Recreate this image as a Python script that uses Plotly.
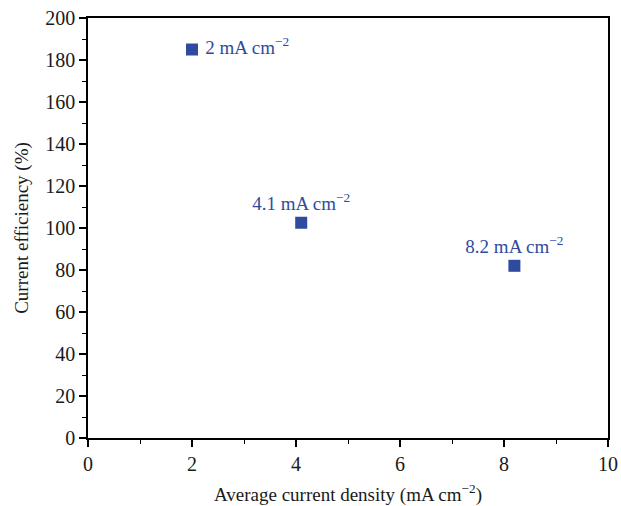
import plotly.graph_objects as go

# Measured points
density = [2.0, 4.1, 8.2]          # mA cm^-2
efficiency = [185, 102.5, 82]      # %
point_labels = [" 2 mA cm<sup>−2</sup>", "4.1 mA cm<sup>−2</sup>", "8.2 mA cm<sup>−2</sup>"]
label_positions = ["middle right", "top center", "top center"]

x_ticks = [0, 2, 4, 6, 8, 10]
y_ticks = [0, 20, 40, 60, 80, 100, 120, 140, 160, 180, 200]

blue = "#2f4b9f"
font_family = "Liberation Serif"
text_color = "#1a1a1a"

fig = go.Figure()
fig.add_trace(go.Scatter(
    x=density, y=efficiency,
    mode="markers+text",
    marker=dict(symbol="square", size=12, color=blue),
    text=point_labels,
    textposition=label_positions,
    textfont=dict(family=font_family, size=19, color=blue),
    showlegend=False,
    cliponaxis=False,
))

axis_common = dict(
    showline=True, linecolor="black", linewidth=1.5, mirror=True,
    ticks="outside", ticklen=7, tickwidth=1.5, tickcolor="black",
    showgrid=False, zeroline=False, automargin=False,
    tickfont=dict(family=font_family, size=20, color=text_color),
)

fig.update_xaxes(
    range=[0, 10], tickvals=x_ticks,
    minor=dict(dtick=1, ticks="outside", ticklen=4, tickwidth=1.2, tickcolor="black"),
    title=dict(text="Average current density (mA cm<sup>−2</sup>)",
               font=dict(family=font_family, size=19, color=text_color), standoff=14),
    **axis_common,
)
fig.update_yaxes(
    range=[0, 200], tickvals=y_ticks,
    minor=dict(dtick=10, ticks="outside", ticklen=4, tickwidth=1.2, tickcolor="black"),
    title=dict(text="Current efficiency (%)",
               font=dict(family=font_family, size=19, color=text_color), standoff=12),
    **axis_common,
)

fig.update_layout(
    width=621, height=506,
    margin=dict(l=88, r=13, t=18, b=68),
    plot_bgcolor="white", paper_bgcolor="white",
)

fig.write_html("out.html")
